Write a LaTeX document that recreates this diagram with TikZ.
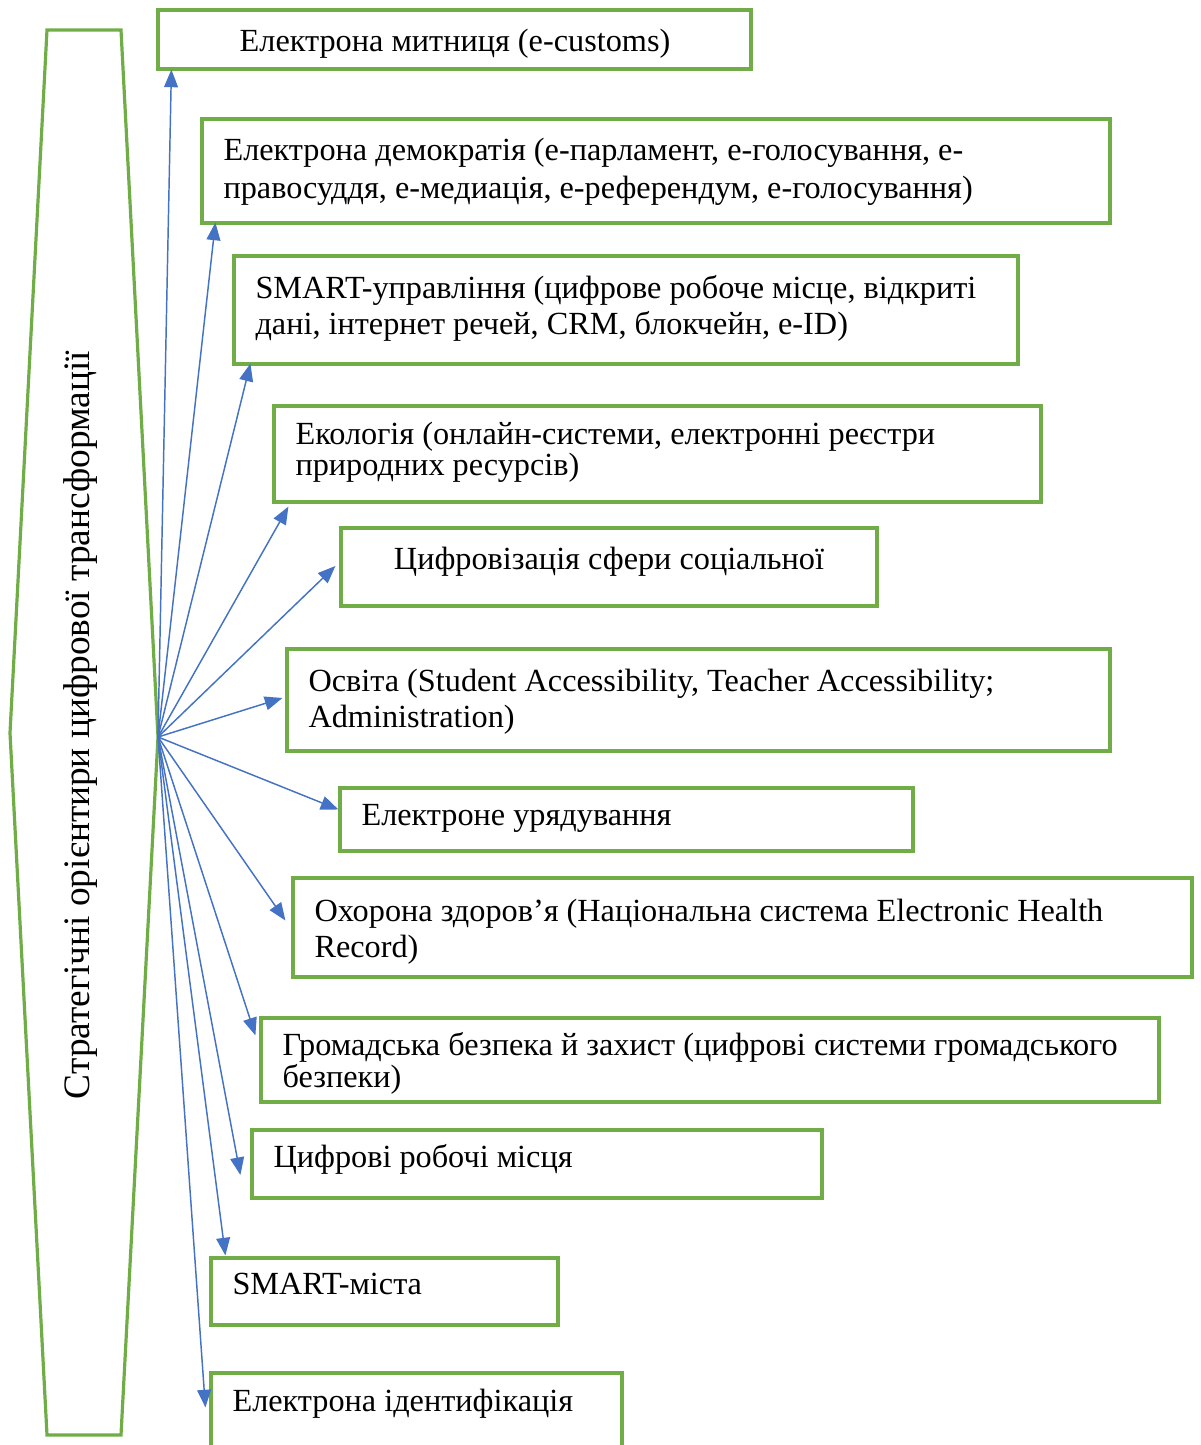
\documentclass[tikz,border=0pt]{standalone}
\usepackage{fontspec}
\setmainfont{Liberation Serif}
\usetikzlibrary{arrows.meta, calc, fit}
\definecolor{boxgreen}{HTML}{70AD47}
\definecolor{arrblue}{HTML}{4472C4}

\begin{document}
\begin{tikzpicture}[x=0.375pt, y=-0.375pt,
    every node/.style={font=\fontsize{12.1pt}{13.4pt}\selectfont},
    box/.style={draw=boxgreen, line width=1.2pt, inner sep=0pt},
    txt/.style={anchor=base west, align=left, inner sep=0pt}]
\useasboundingbox (0,0) rectangle (1200,1445);
\clip (0,0) rectangle (1200,1445);

% left frame
\coordinate (hub) at (158,737);
\draw[boxgreen, line width=1.2pt] (47,30) -- (121,30) -- (hub) -- (121,1435)
  -- (47,1435) -- (10,733) -- cycle;
\node[rotate=90, anchor=base, inner sep=0pt, font=\fontsize{14pt}{16pt}\selectfont]
  (title) at (89,725) {Стратегічні орієнтири цифрової трансформації};

% boxes
\node[box, fit={(158,10) (751,69)}] (b1) {};
\node[box, fit={(202,119) (1110,223)}] (b2) {};
\node[box, fit={(234,256) (1018,364)}] (b3) {};
\node[box, fit={(274,406) (1041,502)}] (b4) {};
\node[box, fit={(341,528) (877,606)}] (b5) {};
\node[box, fit={(287,649) (1110,751)}] (b6) {};
\node[box, fit={(340,788) (913,851)}] (b7) {};
\node[box, fit={(293,878) (1192,977)}] (b8) {};
\node[box, fit={(261,1018) (1159,1102)}] (b9) {};
\node[box, fit={(252,1130) (822,1198)}] (b10) {};
\node[box, fit={(211,1258) (558,1325)}] (b11) {};
\node[box, fit={(211,1373) (622,1452)}] (b12) {};

% texts (base = last line)
\node[anchor=base, inner sep=0pt] (t1) at (455,52) {Електрона митниця (e-customs)};
\node[txt] (t2) at (223,198) {Електрона демократія (е-парламент, е-голосування, е-\\[0.6pt]
  правосуддя, е-медиація, е-референдум, е-голосування)};
\node[txt] (t3) at (255,334) {SMART-управління (цифрове робоче місце, відкриті\\
  дані, інтернет речей, CRM, блокчейн, e-ID)};
\node[txt] (t4) at (295,475) {Екологія (онлайн-системи, електронні реєстри\\[-2pt]
  природних ресурсів)};
\node[anchor=base, inner sep=0pt] (t5) at (609,569) {Цифровізація сфери соціальної};
\node[txt] (t6) at (308,727) {Освіта (Student Accessibility, Teacher Accessibility;\\
  Administration)};
\node[txt] (t7) at (361,825) {Електроне урядування};
\node[txt] (t8) at (314,957) {Охорона здоров’я (Національна система Electronic Health\\
  Record)};
\node[txt] (t9) at (282,1087) {Громадська безпека й захист (цифрові системи громадського\\[-1.6pt]
  безпеки)};
\node[txt] (t10) at (273,1167) {Цифрові робочі місця};
\node[txt] (t11) at (232,1294) {SMART-міста};
\node[txt] (t12) at (232,1411) {Електрона ідентифікація};

% arrows
\begin{scope}[arrblue, line width=0.55pt,
              >={Triangle[length=6.6pt, width=5.2pt]}]
  \path[->] (hub) edge ($(b1.south west)+(15,-1)$);
  \path[->] (hub) edge ($(b2.south west)+(15,-2)$);
  \path[->] (hub) edge ($(b3.south west)+(18,-2)$);
  \path[->] (hub) edge ($(b4.south west)+(16,3)$);
  \path[->] (hub) edge ($(b5.west)+(-4,-1)$);
  \path[->] (hub) edge ($(b6.west)+(-3,-2)$);
  \path[->] (hub) edge ($(b7.west)+(0,-10)$);
  \path[->] (hub) edge ($(b8.west)+(-6,-7)$);
  \path[->] (hub) edge ($(b9.north west)+(-4,19)$);
  \path[->] (hub) edge ($(b10.west)+(-10,11)$);
  \path[->] (hub) edge ($(b11.north west)+(16,-1)$);
  \path[->] (hub) edge ($(b12.north west)+(-4,36)$);
\end{scope}
\end{tikzpicture}
\end{document}
